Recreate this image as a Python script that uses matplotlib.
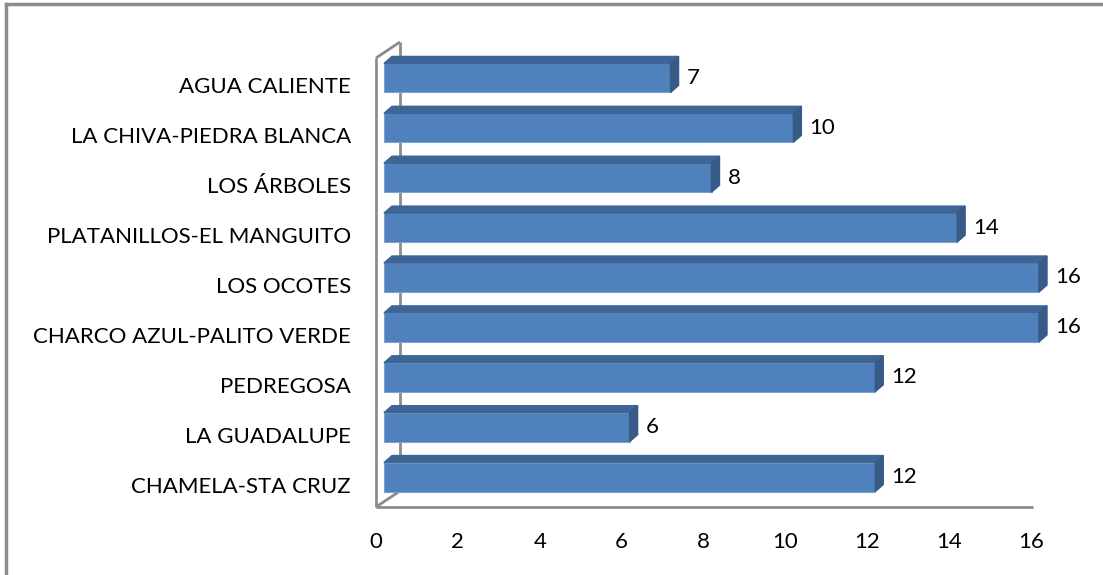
import matplotlib.pyplot as plt
from matplotlib.patches import Polygon
from matplotlib.lines import Line2D

# datos (de abajo hacia arriba)
categories = [
    "CHAMELA-STA CRUZ",
    "LA GUADALUPE",
    "PEDREGOSA",
    "CHARCO AZUL-PALITO VERDE",
    "LOS OCOTES",
    "PLATANILLOS-EL MANGUITO",
    "LOS ÁRBOLES",
    "LA CHIVA-PIEDRA BLANCA",
    "AGUA CALIENTE",
]
values = [12, 6, 12, 16, 16, 14, 8, 10, 7]
x_ticks = [0, 2, 4, 6, 8, 10, 12, 14, 16]

W, H = 1103, 575
FRONT = "#4F81BD"
TOP = "#3D6595"
SIDE = "#375B86"
GRID = "#8C8C8C"
FS = 16

plt.rcParams['font.family'] = ['Lato', 'DejaVu Sans']

fig = plt.figure(figsize=(W / 100, H / 100), dpi=100)
ax = fig.add_axes([376 / W, 1 - 507 / H, (1031 - 376) / W, (507 - 58) / H])
ax.set_xlim(0, 16)
ax.set_ylim(-0.45, 8.55)

# pixeles -> unidades de datos
px = 16 / (1031 - 376)
py = 9.0 / (507 - 58)

# paredes del grafico 3D
wx, wy = 24 * px, 16 * py
y0, y1 = -0.45, 8.55
wall = dict(color=GRID, lw=2, clip_on=False, solid_capstyle='butt')
ax.add_line(Line2D([0, 0], [y0, y1], **wall))
ax.add_line(Line2D([0, wx], [y1, y1 + wy], **wall))
ax.add_line(Line2D([wx, wx], [y1 + wy, y0 + wy], **wall))
ax.add_line(Line2D([0, wx], [y0, y0 + wy], **wall))
ax.add_line(Line2D([0, 16.05], [y0, y0], **wall))

# barras con efecto 3D
bx = 8 * px
by = 7.5 * py
bh = 29 * py
dx, dy = 8 * px, 7 * py
for i, v in enumerate(values):
    yc = i + by
    bot, top = yc - bh / 2, yc + bh / 2
    bars = ax.barh(yc, v, left=bx, height=bh, color=FRONT, edgecolor="#7FA3D0",
                   linewidth=0.8, zorder=3)
    for b in bars:
        b.set_clip_on(False)
    ax.add_patch(Polygon([(bx, top), (bx + v, top), (bx + v + dx, top + dy),
                          (bx + dx, top + dy)], closed=True, color=TOP,
                         zorder=3, clip_on=False))
    ax.add_patch(Polygon([(bx + v, bot), (bx + v + dx, bot + dy),
                          (bx + v + dx, top + dy), (bx + v, top)], closed=True,
                         color=SIDE, zorder=3, clip_on=False))
    ax.text(bx + v + dx + 8 * px, yc, str(v), va='center', ha='left',
            fontsize=FS, color='black', clip_on=False)

ax.set_xticks(x_ticks)
ax.set_xticklabels([str(t) for t in x_ticks], fontsize=FS)
ax.set_yticks(range(len(categories)))
ax.set_yticklabels(categories, fontsize=FS)
ax.tick_params(axis='x', length=0, pad=18)
ax.tick_params(axis='y', length=0, pad=18)
for s in ax.spines.values():
    s.set_visible(False)

# borde del area del grafico
fig.add_artist(Line2D([6 / W, 6 / W], [0, 1 - 4 / H], transform=fig.transFigure,
                      color=GRID, lw=2.5))
fig.add_artist(Line2D([6 / W, 1], [1 - 4 / H, 1 - 4 / H], transform=fig.transFigure,
                      color=GRID, lw=2.5))

fig.savefig("out.png", dpi=100)
